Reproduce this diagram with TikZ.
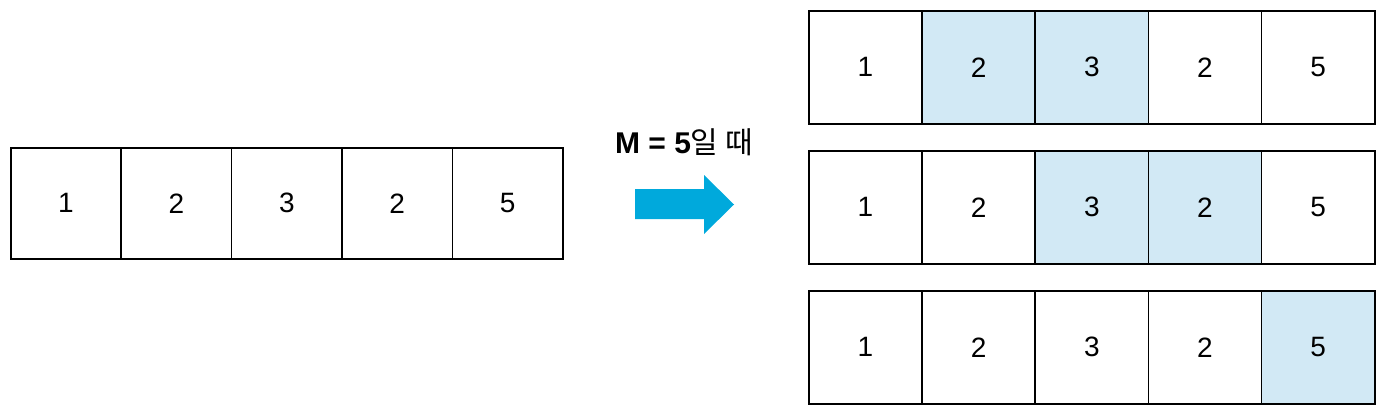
\documentclass[tikz,border=0pt]{standalone}
\usepackage{fontspec}
\setmainfont{Liberation Sans}
\newfontfamily\kor{Noto Sans CJK KR}
\usetikzlibrary{positioning}
\definecolor{hlblue}{HTML}{D2E9F5}
\definecolor{arrowblue}{HTML}{00A9DC}
\tikzset{
  cell/.style={draw, line width=1.6pt, inner sep=0pt, anchor=north west,
    minimum width=110.4pt, minimum height=111pt,
    font=\fontsize{28}{30}\selectfont},
  rcell/.style={cell, minimum width=113.2pt, minimum height=113pt},
  hl/.style={fill=hlblue},
  nohl/.style={}
}

\begin{document}
\begin{tikzpicture}[x=1pt,y=-1pt]
    \useasboundingbox (0,0) rectangle (1384,415);

    % input array
    \foreach \i/\v in {1/1,2/2,3/3,4/2,5/5}
      \node[cell] (l\i) at ({10+(\i-1)*110.4},147) {\v};

    % windows of sum M
    \foreach \i/\v/\s in {1/1/nohl,2/2/hl,3/3/hl,4/2/nohl,5/5/nohl}
      \node[rcell,\s] (a\i) at ({808+(\i-1)*113.2},10) {\v};
    \foreach \i/\v/\s in {1/1/nohl,2/2/nohl,3/3/hl,4/2/hl,5/5/nohl}
      \node[rcell,\s] (b\i) at ({808+(\i-1)*113.2},150) {\v};
    \foreach \i/\v/\s in {1/1/nohl,2/2/nohl,3/3/nohl,4/2/nohl,5/5/hl}
      \node[rcell,\s] (c\i) at ({808+(\i-1)*113.2},290) {\v};

    \node[font=\fontsize{30}{32}\selectfont] (cond) at (684,142)
      {\bfseries M = 5{\mdseries\kor 일 때}};
    \fill[arrowblue] (635,189) -- (704,189) -- (704,175) -- (734,204.5)
      -- (704,234) -- (704,219) -- (635,219) -- cycle;
\end{tikzpicture}
\end{document}
